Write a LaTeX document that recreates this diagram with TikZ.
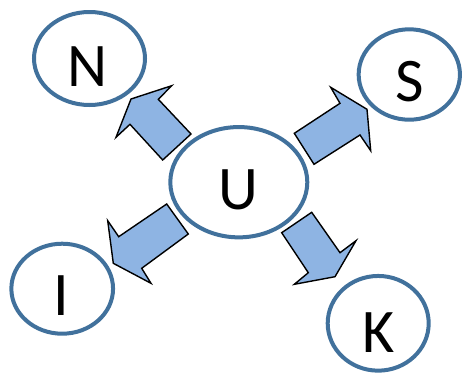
\documentclass[tikz,border=0pt]{standalone}
\usepackage{fontspec}
\setmainfont{Carlito}
\usetikzlibrary{shapes.geometric}
\definecolor{ringblue}{HTML}{41719C}
\definecolor{arrowfill}{HTML}{8EB4E3}
\tikzset{
  ring/.style={ellipse, draw=ringblue, line width=4pt, fill=white, inner sep=0pt},
  letter/.style={inner sep=0pt, text depth=0pt, font=\fontsize{62}{62}\selectfont},
  blockarrow/.style={draw=black, fill=arrowfill, line width=1.4pt, line join=miter}
}
\begin{document}
\begin{tikzpicture}[x=1pt,y=-1pt]
\useasboundingbox (0,0) rectangle (463,373);
% ellipses
\node[ring, minimum width=111pt, minimum height=93pt] (N) at (89.5,58.5) {};
\node[ring, minimum width=101.3pt, minimum height=90.4pt] (S) at (409.3,74.5) {};
\node[ring, minimum width=137pt, minimum height=110.3pt] (U) at (238.8,182.2) {};
\node[ring, minimum width=101.7pt, minimum height=90pt] (I) at (62.2,288.7) {};
\node[ring, minimum width=101pt, minimum height=94.7pt] (K) at (378.2,323.3) {};
% letters
\node[letter] (tN) at (88,66.3) {N};
\node[letter] (tS) at (409.7,81.2) {S};
\node[letter] (tU) at (238.8,190) {U};
\node[letter] (tI) at (61,296) {I};
\node[letter] (tK) at (379,332.5) {K};
% block arrows
\draw[blockarrow] (131,99) -- (171.7,85.7) -- (158.3,99.3) -- (191,134) -- (162.7,160) -- (130,124.3) -- (116,137.3) -- cycle;
\draw[blockarrow] (367,109.3) -- (370.7,150.7) -- (360,135) -- (314,164.3) -- (294.3,133.3) -- (340,103.3) -- (330.7,87.3) -- cycle;
\draw[blockarrow] (113.3,263.3) -- (107.7,220.7) -- (118.7,236.7) -- (166.7,204) -- (188.3,234) -- (141.7,268.3) -- (151,283.3) -- cycle;
\draw[blockarrow] (335,276.7) -- (294.3,284.3) -- (308.3,272.7) -- (281.7,232.7) -- (311.7,212.3) -- (340,252.7) -- (356,240.7) -- cycle;
\end{tikzpicture}
\end{document}
